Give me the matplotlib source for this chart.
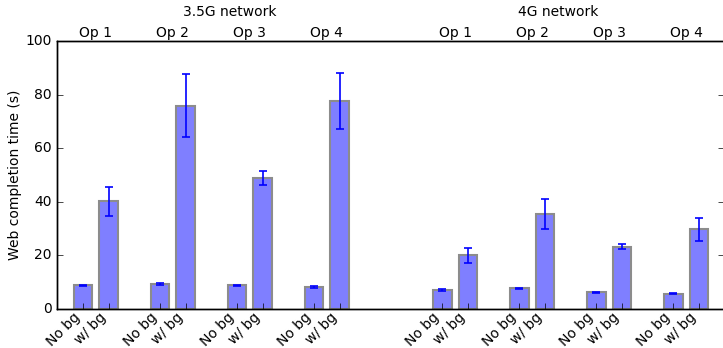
import numpy as np
import matplotlib
matplotlib.use('Agg')
import matplotlib.pyplot as plt

# values
ops = ['Op 1', 'Op 2', 'Op 3', 'Op 4']
bar_labels = ['No bg', 'w/ bg']
net_labels = ['3.5G network', '4G network']

g35_nobg = [8.8, 9.3, 8.8, 8.3]
g35_nobg_err = [0.3, 0.4, 0.3, 0.3]
g35_bg = [40.2, 75.9, 48.9, 77.7]
g35_bg_err = [5.4, 11.8, 2.7, 10.4]

g4_nobg = [7.0, 7.7, 6.2, 5.7]
g4_nobg_err = [0.4, 0.2, 0.2, 0.2]
g4_bg = [20.1, 35.4, 23.3, 29.7]
g4_bg_err = [2.8, 5.6, 0.8, 4.4]

plt.style.use('classic')
plt.rcParams['font.family'] = 'DejaVu Sans'
plt.rcParams['font.size'] = 10

fig = plt.figure(figsize=(7.23, 3.48), dpi=100, facecolor='white')
ax = fig.add_axes([57/723, 39/348, 667/723, 268/348])

width = 0.72
pos_nobg = np.array([0, 3, 6, 9, 14, 17, 20, 23])
pos_bg = pos_nobg + 1
nobg = g35_nobg + g4_nobg
nobg_err = g35_nobg_err + g4_nobg_err
bg = g35_bg + g4_bg
bg_err = g35_bg_err + g4_bg_err

for pos, vals, errs in [(pos_nobg, nobg, nobg_err), (pos_bg, bg, bg_err)]:
    ax.bar(pos, vals, width, align='center', color=(0, 0, 1, 0.5),
           edgecolor='#8c8c8c', linewidth=1.5)
    ax.errorbar(pos, vals, yerr=errs, fmt='none', ecolor='blue',
                capsize=3, elinewidth=1.2, capthick=1.2)

ticks = np.sort(np.concatenate([pos_nobg, pos_bg]))
ax.set_xticks(ticks)
ax.set_xticklabels(bar_labels * 8, rotation=45, ha='right', fontsize=10)
ax.set_xlim(-1.01, 24.97)
ax.set_ylim(0, 100)
ax.set_yticks(range(0, 101, 20))
ax.set_ylabel('Web completion time (s)', fontsize=10, labelpad=2)
ax.tick_params(direction='in', top=True, right=True, length=4)
ax.tick_params(axis='x', pad=0.5)

ax2 = ax.twiny()
ax2.set_xlim(ax.get_xlim())
ax2.set_xticks(pos_nobg + 0.5)
ax2.set_xticklabels(ops * 2, fontsize=10)
ax2.tick_params(length=0, pad=1)

ax.text(5.7, 1.108, net_labels[0], transform=ax.get_xaxis_transform(),
        ha='center', va='center', fontsize=10)
ax.text(18.5, 1.108, net_labels[1], transform=ax.get_xaxis_transform(),
        ha='center', va='center', fontsize=10)

fig.savefig('out.png', dpi=100, facecolor='white')
